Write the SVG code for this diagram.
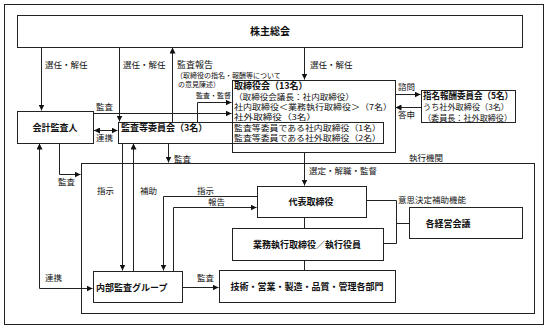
<svg xmlns="http://www.w3.org/2000/svg" width="552" height="328" viewBox="0 0 552 328">
<defs>
<marker id="ah" markerWidth="6" markerHeight="6" refX="6" refY="3" orient="auto-start-reverse" markerUnits="userSpaceOnUse">
<path d="M0,0 L6,3 L0,6 z" fill="#111"/>
</marker>
<style>
rect.b{fill:#fff;stroke:#222;stroke-width:1}
rect.f{fill:none;stroke:#222;stroke-width:1}
.c path{fill:none;stroke:#222;stroke-width:1}
.c path.a{marker-end:url(#ah)}
.c path.d{marker-start:url(#ah);marker-end:url(#ah)}
text{font-family:"Noto Sans CJK JP","Noto Sans",sans-serif;fill:#111}
.t{font-size:9px;font-weight:bold}
.m{font-size:9px;text-anchor:middle;font-weight:bold}
.l{font-size:8.5px}
.s{font-size:7px}
.n{font-size:8px}
</style>
</defs>
<rect x="0" y="0" width="552" height="328" fill="#fff"/>
<rect class="f" x="4.5" y="4.5" width="539" height="320"/>
<g id="exec-frame">
<rect class="f" x="81.5" y="163.5" width="453" height="150"/>
<text class="l" x="409" y="161">執行機関</text>
</g>
<g class="c" id="connectors">
<path class="a" d="M41.5,47 V110.5"/>
<path class="a" d="M119.5,47 V121.5"/>
<path class="a" d="M172.5,122 V47.5"/>
<path class="a" d="M304.5,47 V79.5"/>
<path class="a" d="M197.5,122 V102.5 H231.5"/>
<path class="a" d="M93,113.5 H231.5"/>
<path class="d" d="M94,130.5 H117.5"/>
<path class="a" d="M168.5,143 V162.5"/>
<path class="a" d="M59.5,143 V174.5 H80.5"/>
<path class="d" d="M39.5,143.5 V288.5 H92.5"/>
<path class="a" d="M122.5,143 V270.5"/>
<path class="a" d="M133.5,271 V143.5"/>
<path class="a" d="M257,196.5 H163.5 V270.5"/>
<path class="a" d="M173.5,271 V207.5 H256.5"/>
<path class="a" d="M304.5,152 V185.5"/>
<path d="M304.5,217 V228"/>
<path d="M304.5,260 V270"/>
<path d="M366,200.5 H396.5 V243.5 H383"/>
<path d="M396.5,223.5 H409"/>
<path class="a" d="M182,287.5 H218.5"/>
<path class="a" d="M395,94.5 H420.5"/>
<path class="a" d="M421,107.5 H395.5"/>
</g>
<g id="labels">
<text class="l" x="45" y="68">選任・解任</text>
<text class="l" x="123" y="68">選任・解任</text>
<text class="l" x="177" y="68" style="font-size:9px">監査報告</text>
<text class="s" x="176" y="78">（取締役の指名・報酬等について</text>
<text class="s" x="178" y="87">の意見陳述）</text>
<text class="l" x="310" y="68">選任・解任</text>
<text class="s" x="231" y="98" text-anchor="end">監査・監督</text>
<text class="l" x="96" y="110">監査</text>
<text class="l" x="96" y="141">連携</text>
<text class="l" x="174" y="162">監査</text>
<text class="l" x="58" y="185">監査</text>
<text class="l" x="45" y="281">連携</text>
<text class="l" x="97" y="194">指示</text>
<text class="l" x="140" y="194">補助</text>
<text class="l" x="197" y="194">指示</text>
<text class="l" x="208" y="205">報告</text>
<text class="l" x="309" y="174">選定・解職・監督</text>
<text class="l" x="398" y="203">意思決定補助機能</text>
<text class="l" x="197" y="281">監査</text>
<text class="l" x="398" y="90">諮問</text>
<text class="l" x="398" y="118">答申</text>
</g>
<g id="shareholders">
<rect class="b" x="17.5" y="15.5" width="505" height="32"/>
<text class="m" x="270" y="35" style="font-size:10px">株主総会</text>
</g>
<g id="auditor">
<rect class="b" x="17.5" y="111.5" width="76" height="32"/>
<text class="m" x="55" y="131">会計監査人</text>
</g>
<g id="board">
<rect class="b" x="232.5" y="80.5" width="163" height="72"/>
<text class="t" x="234" y="88.5">取締役会（13名）</text>
<text class="n" x="234" y="99.5" textLength="120" lengthAdjust="spacingAndGlyphs">（取締役会議長：社内取締役）</text>
<text class="n" x="234" y="109.5" textLength="158" lengthAdjust="spacingAndGlyphs">社内取締役＜業務執行取締役＞（7名）</text>
<text class="n" x="234" y="119.5" textLength="82" lengthAdjust="spacingAndGlyphs">社外取締役（3名）</text>
</g>
<g id="audit-committee">
<rect class="f" x="118.5" y="122.5" width="265" height="21"/>
<rect x="119" y="123" width="113" height="20" fill="#fff"/>
<path d="M232.5,122.5 V143.5" stroke="#222" fill="none"/>
<text class="t" x="121" y="131">監査等委員会（3名）</text>
<text class="n" x="234" y="130.5" textLength="147" lengthAdjust="spacingAndGlyphs">監査等委員である社内取締役（1名）</text>
<text class="n" x="234" y="140.5" textLength="147" lengthAdjust="spacingAndGlyphs">監査等委員である社外取締役（2名）</text>
</g>
<g id="nomination">
<rect class="b" x="421.5" y="90.5" width="94" height="32"/>
<text class="t" x="423" y="98.5" textLength="90" lengthAdjust="spacingAndGlyphs">指名報酬委員会（5名）</text>
<text class="n" x="423" y="109.5" textLength="86" lengthAdjust="spacingAndGlyphs">うち社外取締役（3名）</text>
<text class="n" x="423" y="120.5" textLength="89" lengthAdjust="spacingAndGlyphs">（委員長：社外取締役）</text>
</g>
<g id="ceo">
<rect class="b" x="257.5" y="186.5" width="109" height="31"/>
<text class="m" x="311" y="205">代表取締役</text>
</g>
<g id="executives">
<rect class="b" x="232.5" y="228.5" width="151" height="32"/>
<text class="m" x="307" y="248">業務執行取締役／執行役員</text>
</g>
<g id="departments">
<rect class="b" x="219.5" y="270.5" width="176" height="32"/>
<text class="m" x="307" y="290">技術・営業・製造・品質・管理各部門</text>
</g>
<g id="meetings">
<rect class="b" x="409.5" y="207.5" width="113" height="31"/>
<text class="m" x="448" y="227">各経営会議</text>
</g>
<g id="internal-audit">
<rect class="b" x="93.5" y="271.5" width="89" height="31"/>
<text class="t" x="96" y="291">内部監査グループ</text>
</g>
</svg>
